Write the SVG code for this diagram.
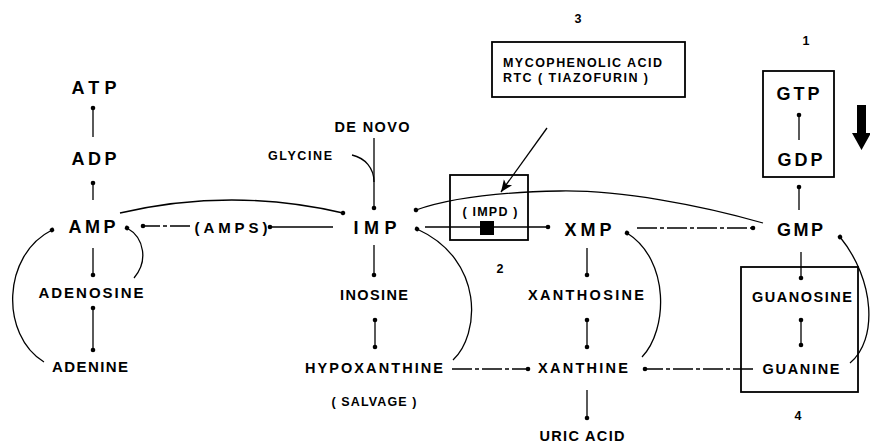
<svg xmlns="http://www.w3.org/2000/svg" width="870" height="444" viewBox="0 0 870 444">
<style>
text{font-family:"Liberation Sans",Arial,sans-serif;font-weight:bold;fill:#000;text-anchor:middle}
.big{font-size:18px}
.mid{font-size:15px}
.sm{font-size:14.5px}
.xs{font-size:12.5px}
.box{fill:none;stroke:#000;stroke-width:1.8}
.c{fill:none;stroke:#000;stroke-width:1.3}
.d{stroke-dasharray:20 3 4 3}
.e{marker-end:url(#dot)}
.b{marker-start:url(#dot);marker-end:url(#dot)}
</style>
<defs>
<marker id="dot" markerUnits="userSpaceOnUse" markerWidth="8" markerHeight="8" refX="4" refY="4" orient="auto"><circle cx="4" cy="4" r="2.3" fill="#000"/></marker>
<marker id="arr" markerUnits="userSpaceOnUse" markerWidth="14" markerHeight="12" refX="12" refY="6" orient="auto"><path d="M0,1 L12,6 L0,11 L3,6 Z" fill="#000"/></marker>
</defs>

<g id="connectors">
<line class="c e" x1="93" y1="137" x2="93" y2="108"/>
<line class="c e" x1="93" y1="200" x2="93" y2="183"/>
<line class="c e" x1="93" y1="248" x2="93" y2="275"/>
<line class="c b" x1="93" y1="308" x2="93" y2="350"/>
<path class="c e" d="M44 362 C0 335 2 255 52 230"/>
<path class="c e" d="M134 278 C148 262 145 238 127 228"/>
<line class="c d e" x1="190" y1="226" x2="143" y2="226"/>
<line class="c e" x1="333" y1="227" x2="270" y2="227"/>
<path class="c e" d="M120 213 Q232 187 343 213"/>
<line class="c e" x1="374" y1="138" x2="374" y2="208"/>
<path class="c" d="M352 155 C365 158 374 168 374 182"/>
<line class="c e" x1="374" y1="245" x2="374" y2="275"/>
<line class="c b" x1="375" y1="320" x2="375" y2="347"/>
<path class="c e" d="M453 360 C480 335 485 260 417 229"/>
<line class="c d e" x1="452" y1="369" x2="528" y2="369"/>
<line class="c e" x1="425" y1="227" x2="548" y2="227"/>
<path class="c e" d="M763 223 C700 205 620 190 560 191 C500 192 450 198 416 210"/>
<line class="c e" x1="587" y1="248" x2="587" y2="275"/>
<line class="c b" x1="587" y1="320" x2="587" y2="347"/>
<line class="c e" x1="587" y1="390" x2="587" y2="418"/>
<path class="c e" d="M642 357 C668 330 670 260 627 233"/>
<line class="c d e" x1="637" y1="228" x2="753" y2="228"/>
<line class="c e" x1="799" y1="210" x2="799" y2="187"/>
<line class="c e" x1="799" y1="140" x2="799" y2="115"/>
<line class="c e" x1="801" y1="252" x2="801" y2="278"/>
<line class="c b" x1="801" y1="320" x2="801" y2="345"/>
<line class="c d e" x1="753" y1="369" x2="645" y2="369"/>
<path class="c e" d="M850 363 C878 340 875 280 840 237"/>
<line class="c" x1="547" y1="128" x2="501" y2="192" marker-end="url(#arr)"/>
</g>

<g id="ATP"><text class="big" x="94" y="94" textLength="45" lengthAdjust="spacing">ATP</text></g>
<g id="ADP"><text class="big" x="94" y="165" textLength="45" lengthAdjust="spacing">ADP</text></g>
<g id="AMP"><text class="big" x="92" y="233" textLength="47" lengthAdjust="spacing">AMP</text></g>
<g id="ADENOSINE"><text class="mid" x="91" y="298" textLength="105" lengthAdjust="spacing">ADENOSINE</text></g>
<g id="ADENINE"><text class="mid" x="90" y="372" textLength="76" lengthAdjust="spacing">ADENINE</text></g>
<g id="AMPS"><text class="mid" x="231" y="233" textLength="73" lengthAdjust="spacing">(AMPS)</text></g>
<g id="IMP"><text class="big" x="375" y="234" textLength="43" lengthAdjust="spacing">IMP</text></g>
<g id="DENOVO"><text class="sm" x="372" y="132" textLength="75" lengthAdjust="spacing">DE NOVO</text></g>
<g id="GLYCINE"><text class="xs" x="300" y="160" textLength="64" lengthAdjust="spacing">GLYCINE</text></g>
<g id="INOSINE"><text class="sm" x="374" y="300" textLength="68" lengthAdjust="spacing">INOSINE</text></g>
<g id="HYPOXANTHINE"><text class="sm" x="374" y="373" textLength="138" lengthAdjust="spacing">HYPOXANTHINE</text></g>
<g id="SALVAGE"><text class="xs" x="374" y="406" textLength="85" lengthAdjust="spacing">( SALVAGE )</text></g>
<g id="IMPD">
<rect class="box" x="450" y="175" width="78" height="65"/>
<text class="xs" x="490" y="216" textLength="55" lengthAdjust="spacing">( IMPD )</text>
<rect x="480" y="221" width="14" height="14" fill="#000"/>
<text class="xs" x="500" y="273">2</text>
</g>
<g id="INHIBITOR">
<rect class="box" x="492" y="42" width="193" height="55"/>
<text class="xs" x="503" y="67" style="text-anchor:start" textLength="159" lengthAdjust="spacing">MYCOPHENOLIC ACID</text>
<text class="xs" x="503" y="82" style="text-anchor:start" textLength="145" lengthAdjust="spacing">RTC ( TIAZOFURIN )</text>
<text class="xs" x="578" y="23">3</text>
</g>
<g id="XMP"><text class="big" x="588" y="236" textLength="47" lengthAdjust="spacing">XMP</text></g>
<g id="XANTHOSINE"><text class="sm" x="586" y="300" textLength="116" lengthAdjust="spacing">XANTHOSINE</text></g>
<g id="XANTHINE"><text class="sm" x="583" y="373" textLength="90" lengthAdjust="spacing">XANTHINE</text></g>
<g id="URICACID"><text class="sm" x="582" y="441" textLength="85" lengthAdjust="spacing">URIC ACID</text></g>
<g id="GTPBOX">
<rect class="box" x="763" y="71" width="71" height="106"/>
<text class="big" x="798" y="100" textLength="43" lengthAdjust="spacing">GTP</text>
<text class="big" x="800" y="166" textLength="45" lengthAdjust="spacing">GDP</text>
<text class="xs" x="806" y="45">1</text>
</g>
<g id="DOWNARROW"><path d="M857 105 H866 V133 H871 L861.5 150 L852 133 H857 Z" fill="#000"/></g>
<g id="GMP"><text class="big" x="800" y="236" textLength="46" lengthAdjust="spacing">GMP</text></g>
<g id="GUABOX">
<rect class="box" x="741" y="267" width="117" height="125"/>
<text class="sm" x="802" y="302" textLength="100" lengthAdjust="spacing">GUANOSINE</text>
<text class="sm" x="801" y="374" textLength="77" lengthAdjust="spacing">GUANINE</text>
<text class="xs" x="798" y="420">4</text>
</g>
</svg>
